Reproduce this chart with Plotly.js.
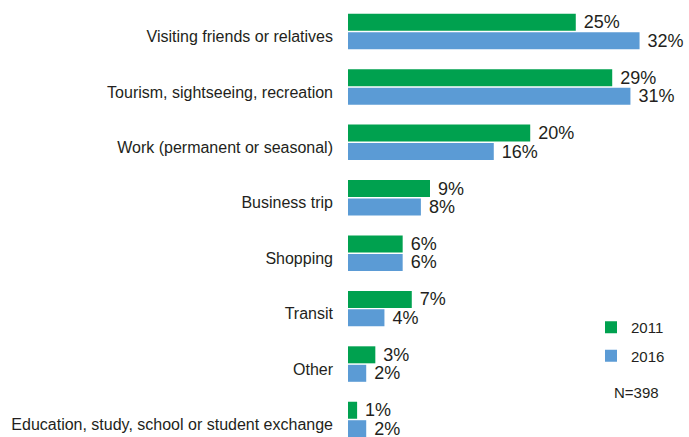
<!DOCTYPE html>
<html>
<head>
<meta charset="utf-8">
<script src="https://cdn.plot.ly/plotly-3.0.1.min.js"></script>
<style>html,body{margin:0;padding:0;background:#fff;}#chart{width:689px;height:437px;}</style>
</head>
<body>
<div id="chart"></div>
<script>
const categories = [
  "Visiting friends or relatives",
  "Tourism, sightseeing, recreation",
  "Work (permanent or seasonal)",
  "Business trip",
  "Shopping",
  "Transit",
  "Other",
  "Education, study, school or student exchange"
];
const values2011 = [25, 29, 20, 9, 6, 7, 3, 1];
const values2016 = [32, 31, 16, 8, 6, 4, 2, 2];
const seriesNames = ["2011", "2016"];
const noteText = "N=398";

const FONT = "Liberation Sans, Arial, sans-serif";
const lbl = v => v.map(x => " " + x + "%");

const traces = [
  {type:"bar", orientation:"h", name:seriesNames[0], y:categories, x:values2011,
   marker:{color:"#00A14F"}, text:lbl(values2011), textposition:"outside",
   textfont:{family:FONT,size:18,color:"#231f20"}, cliponaxis:false, constraintext:"none",
   legendgroup:"a", hoverinfo:"skip"},
  {type:"bar", orientation:"h", name:seriesNames[1], y:categories, x:values2016,
   marker:{color:"#5B9BD5"}, text:lbl(values2016), textposition:"outside",
   textfont:{family:FONT,size:18,color:"#231f20"}, cliponaxis:false, constraintext:"none",
   legendgroup:"b", hoverinfo:"skip"}
];

const PW = 689 - 348 - 13;
const layout = {
  width:689, height:437,
  margin:{l:348, r:13, t:0, b:0, pad:0, autoexpand:false},
  paper_bgcolor:"#fff", plot_bgcolor:"#fff",
  barmode:"group", bargap:0.333, bargroupgap:0.08,
  showlegend:true,
  legend:{x:(591-348)/PW, xref:"paper", xanchor:"left", y:1-311/437, yref:"paper", yanchor:"top",
    font:{family:FONT,size:15,color:"#231f20"}, traceorder:"grouped", tracegroupgap:6,
    bgcolor:"rgba(0,0,0,0)", borderwidth:0},
  xaxis:{range:[0,36], autorange:false, visible:false, fixedrange:true},
  yaxis:{type:"category", range:[7.316,-0.568], autorange:false, showgrid:false, zeroline:false,
    showline:false, ticks:"", ticklabelstandoff:14, ticklabelshift:-5,
    tickfont:{family:FONT,size:16,color:"#231f20"}, fixedrange:true},
  annotations:[{text:noteText, xref:"paper", yref:"paper", x:(636-348)/PW, y:1-392/437,
    xanchor:"center", yanchor:"middle", showarrow:false, font:{family:FONT,size:15,color:"#231f20"}}]
};

Plotly.newPlot("chart", traces, layout, {displayModeBar:false, staticPlot:true});
</script>
</body>
</html>
